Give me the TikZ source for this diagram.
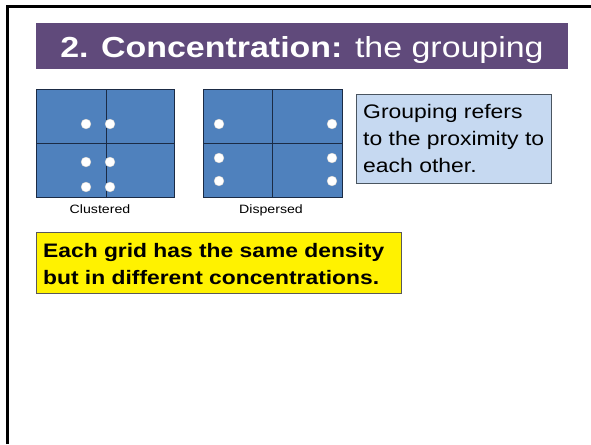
\documentclass[tikz,border=0pt]{standalone}
\usepackage{fontspec}
\setmainfont{Liberation Sans}[FakeStretch=1.17]
\definecolor{titlepurple}{HTML}{604A7B}
\definecolor{gridblue}{HTML}{4F81BD}
\definecolor{gridline}{HTML}{1B2B45}
\definecolor{boxblue}{HTML}{C6D9F1}
\definecolor{boxedge}{HTML}{4A5560}
\tikzset{
  gridcell/.style={fill=gridblue, draw=gridline, line width=0.9pt},
  divider/.style={draw=gridline, line width=0.9pt},
  dot/.style={circle, fill=white, draw=gray!50, line width=0.3pt, minimum size=10pt, inner sep=0pt},
  gridlabel/.style={inner sep=0pt, anchor=base, font=\fontsize{12.1}{14}\selectfont},
  plain/.style={inner sep=0pt, anchor=base west, align=left}
}
\begin{document}
\begin{tikzpicture}[x=1pt,y=-1pt]
\useasboundingbox (0,0) rectangle (591,444);
% page frame
\draw[line width=2.5pt] (7.3,444) -- (7.3,6.3) -- (591,6.3);
% title bar
\fill[titlepurple] (36,23) rectangle (568,69);
\node[inner sep=0pt, anchor=base, text=white, font=\fontsize{29}{34}\selectfont] (title) at (302,58) {\textbf{2. Concentration:} the grouping};
% grid 1 (clustered)
\path[gridcell] (36,89) rectangle (174,197);
\draw[divider] (106,89) -- (106,197);
\draw[divider] (36,143) -- (174,143);
\node[dot] (c1) at (86,124) {};
\node[dot] (c2) at (110,124) {};
\node[dot] (c3) at (86,162) {};
\node[dot] (c4) at (110,162) {};
\node[dot] (c5) at (86,187) {};
\node[dot] (c6) at (110,187) {};
\node[gridlabel] (lclust) at (100,213) {Clustered};
% grid 2 (dispersed)
\path[gridcell] (203,89) rectangle (342,197);
\draw[divider] (272,89) -- (272,197);
\draw[divider] (203,143) -- (342,143);
\node[dot] (d1) at (219,124) {};
\node[dot] (d2) at (332,124) {};
\node[dot] (d3) at (219,158) {};
\node[dot] (d4) at (332,158) {};
\node[dot] (d5) at (219,181) {};
\node[dot] (d6) at (332,181) {};
\node[gridlabel] (ldisp) at (271,213) {Dispersed};
% explanation box
\path[fill=boxblue, draw=boxedge, line width=0.8pt] (356,94) rectangle (551,183);
\node[plain, font=\fontsize{19.6}{27}\selectfont] (expl) at (363,172) {Grouping refers\\to the proximity to\\each other.};
% yellow box
\path[fill=yellow, draw=gray!70!black, line width=0.6pt] (36,232) rectangle (401,293);
\node[plain, font=\fontsize{19.5}{27}\selectfont\bfseries] (note) at (43,284) {Each grid has the same density\\but in different concentrations.};
\end{tikzpicture}
\end{document}
